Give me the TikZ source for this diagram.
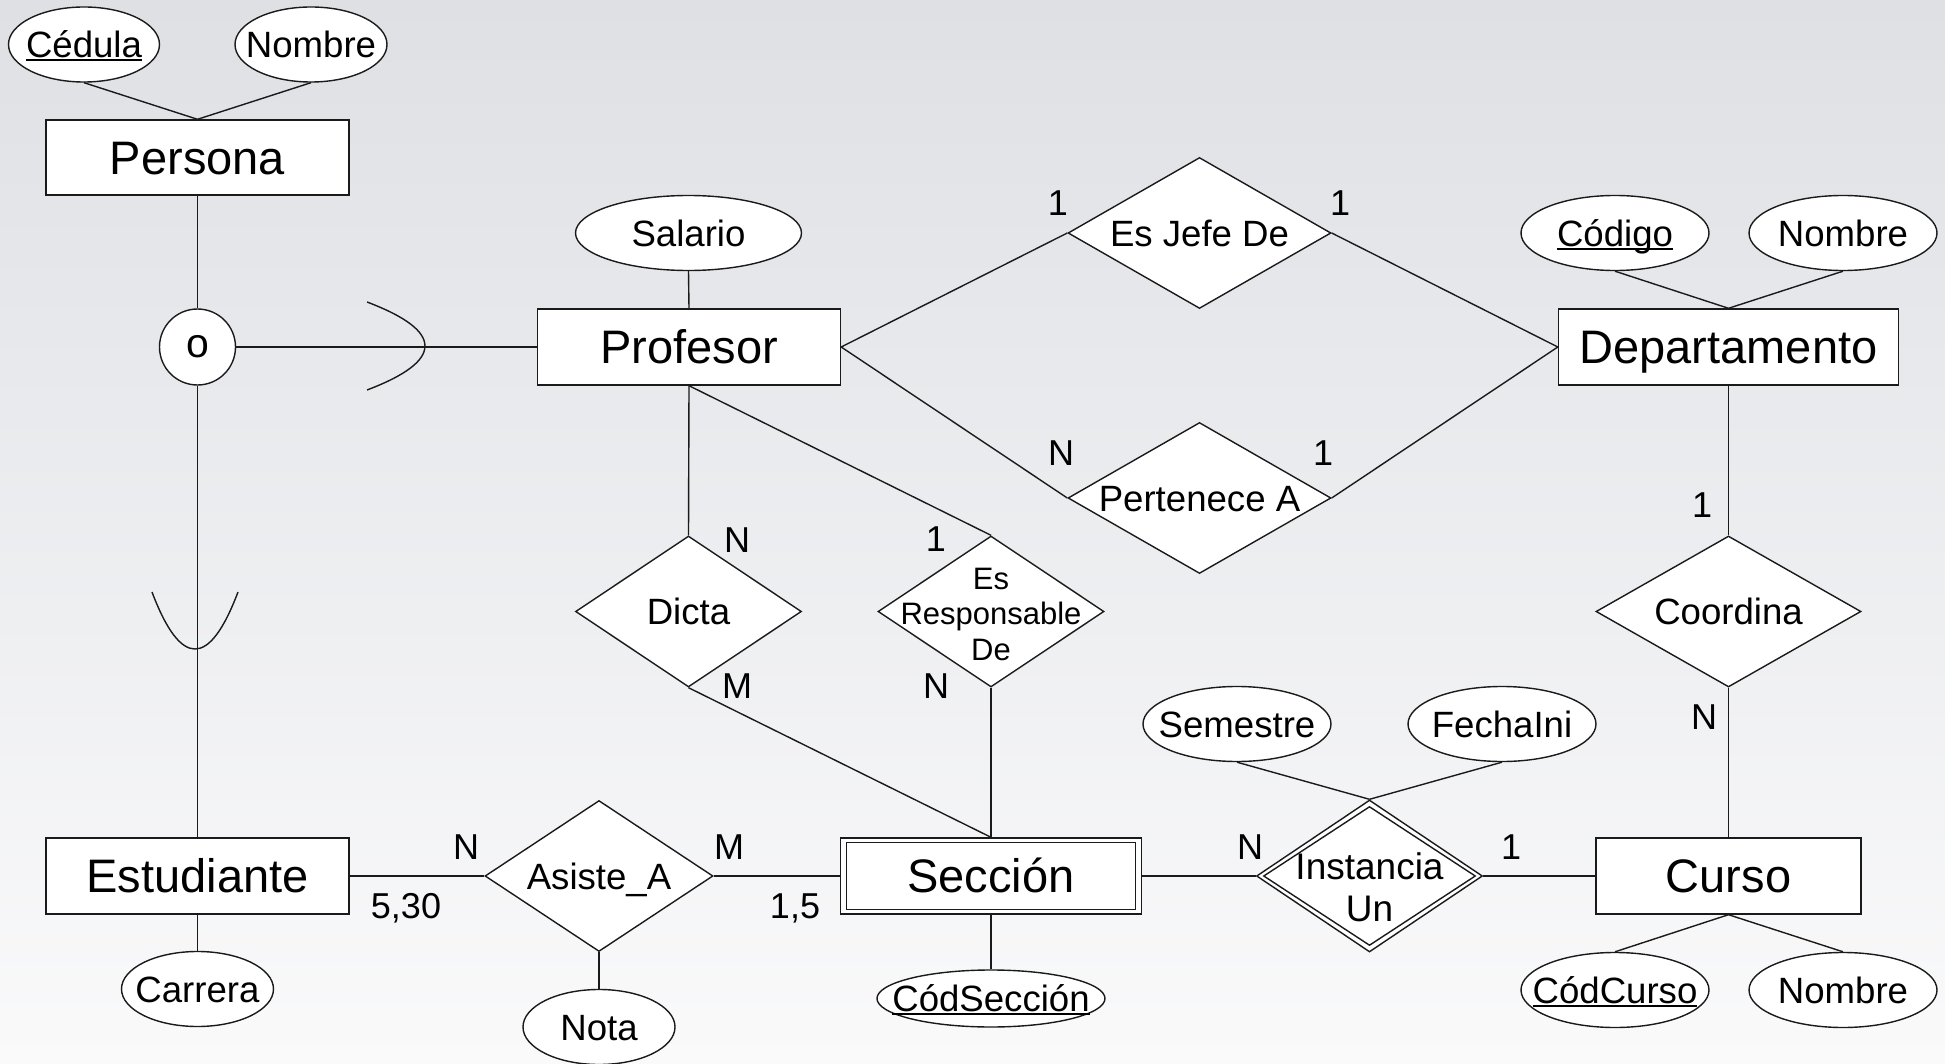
\documentclass[tikz,border=0pt]{standalone}
\usepackage{fontspec}
\setmainfont{Liberation Sans}
\usetikzlibrary{shapes.geometric}
\definecolor{linec}{RGB}{26,26,26}
\definecolor{bgtop}{RGB}{222,224,228}
\definecolor{bgbot}{RGB}{250,250,251}
\newsavebox\ulbox
\newcommand{\ulk}[1]{\sbox\ulbox{#1}\rlap{\rule[-1.75pt]{\wd\ulbox}{1pt}}\usebox\ulbox}
\tikzset{
  ln/.style={draw=linec, line width=0.7pt},
  ent/.style={rectangle, draw=linec, fill=white, line width=0.7pt, inner sep=0pt},
  attr/.style={ellipse, draw=linec, fill=white, line width=0.7pt, inner sep=0pt, minimum width=94pt, minimum height=37.5pt},
  rel/.style={diamond, draw=linec, fill=white, line width=0.7pt, inner sep=0pt, minimum height=75.5pt},
  bigtxt/.style={font=\fontsize{23.5}{28}\selectfont, text height=16.8pt, text depth=0pt, inner sep=0pt},
  midtxt/.style={font=\fontsize{18.3}{22}\selectfont, text height=13.1pt, text depth=0pt, inner sep=0pt},
  card/.style={font=\fontsize{18}{22}\selectfont, text height=12.9pt, text depth=0pt, inner sep=0pt},
}
\begin{document}
\begin{tikzpicture}[x=0.5pt, y=-0.5pt]
\useasboundingbox (0,0) rectangle (1945,1064);
\shade[top color=bgtop, bottom color=bgbot] (0,0) rectangle (1945,1064);

% entities
\node[ent, minimum width=151.5pt, minimum height=37.5pt, label={[bigtxt]center:Persona}] (persona) at (197.5,157.5) {};
\node[ent, minimum width=151.5pt, minimum height=38pt, label={[bigtxt]center:Profesor}] (profesor) at (689,347) {};
\node[ent, minimum width=170pt, minimum height=38pt, label={[bigtxt]center:Departamento}] (depto) at (1728.5,347) {};
\node[ent, minimum width=151.5pt, minimum height=38pt, label={[bigtxt]center:Estudiante}] (estud) at (197.5,876) {};
\node[ent, minimum width=150.5pt, minimum height=38pt] (seccion) at (991,876) {};
\node[ent, minimum width=144.5pt, minimum height=33.5pt, label={[bigtxt]center:Sección}] (secin) at (seccion.center) {};
\node[ent, minimum width=132.5pt, minimum height=38pt, label={[bigtxt]center:Curso}] (curso) at (1728.5,876) {};

% disjoint/overlap circle
\node[circle, draw=linec, fill=white, line width=0.7pt, inner sep=0pt, minimum size=38pt,
      font=\fontsize{20.5}{24}\selectfont, text height=10.6pt, text depth=0pt] (circ) at (197.5,347) {o};

% attributes
\node[attr, minimum width=75.5pt, label={[midtxt]center:{\ulk{Cédula}}}] (ced) at (84,44.5) {};
\node[attr, minimum width=76pt, label={[midtxt]center:Nombre}] (pnom) at (311,44.5) {};
\node[attr, minimum width=113pt, label={[midtxt]center:Salario}] (salario) at (688.5,233) {};
\node[attr, label={[midtxt]center:{\ulk{Código}}}] (codigo) at (1615,233) {};
\node[attr, label={[midtxt]center:Nombre}] (dnom) at (1843,233) {};
\node[attr, minimum width=76pt, label={[midtxt]center:Carrera}] (carrera) at (197.5,989) {};
\node[attr, minimum width=76pt, label={[midtxt]center:Nota}] (nota) at (599,1027) {};
\node[attr, minimum width=114pt, minimum height=28.5pt, label={[midtxt]center:{\ulk{CódSección}}}] (codsec) at (991,998.5) {};
\node[attr, label={[midtxt]center:Semestre}] (semestre) at (1237,724) {};
\node[attr, label={[midtxt]center:FechaIni}] (fecha) at (1502,724) {};
\node[attr, label={[midtxt]center:{\ulk{CódCurso}}}] (codcurso) at (1615,990) {};
\node[attr, label={[midtxt]center:Nombre}] (cnom) at (1843,990) {};

% relationships
\node[rel, minimum width=131.5pt, label={[midtxt]center:Es Jefe De}] (jefe) at (1199.5,233) {};
\node[rel, minimum width=131.5pt, label={[midtxt]center:Pertenece A}] (pert) at (1199.5,498) {};
\node[rel, minimum width=113pt, label={[midtxt]center:Dicta}] (dicta) at (688.5,611.5) {};
\node[rel, minimum width=113pt] (resp) at (991,611.5) {};
\node[font=\fontsize{15.5}{17.75}\selectfont, align=center, inner sep=0pt] (resptxt) at (991,614.4) {Es\\Responsable\\De};
\node[rel, minimum width=132.5pt, label={[midtxt]center:Coordina}] (coord) at (1728.5,611.5) {};
\node[rel, minimum width=114pt, label={[midtxt]center:Asiste\_A}] (asiste) at (599,876) {};
\node[rel, minimum width=113pt, minimum height=76pt] (inst) at (1369.5,876) {};
\node[rel, minimum width=106pt, minimum height=69.5pt] (instin) at (inst.center) {};
\node[font=\fontsize{18.5}{21}\selectfont, align=center, inner sep=0pt] (insttxt) at (1369.5,886.8) {Instancia\\Un};

% connectors
\draw[ln] (ced.south) -- (persona.north);
\draw[ln] (pnom.south) -- (persona.north);
\draw[ln] (persona.south) -- (circ.north);
\draw[ln] (circ.south) -- (estud.north);
\draw[ln] (circ.east) -- (profesor.west);
\draw[ln] (salario.south) -- (profesor.north);
\draw[ln] (profesor.east) -- (jefe.west);
\draw[ln] (jefe.east) -- (depto.west);
\draw[ln] (profesor.east) -- (pert.west);
\draw[ln] (pert.east) -- (depto.west);
\draw[ln] (codigo.south) -- (depto.north);
\draw[ln] (dnom.south) -- (depto.north);
\draw[ln] (depto.south) -- (coord.north);
\draw[ln] (coord.south) -- (curso.north);
\draw[ln] (profesor.south) -- (dicta.north);
\draw[ln] (dicta.south) -- (seccion.north);
\draw[ln] (profesor.south) -- (resp.north);
\draw[ln] (resp.south) -- (seccion.north);
\draw[ln] (estud.east) -- (asiste.west);
\draw[ln] (asiste.east) -- (seccion.west);
\draw[ln] (asiste.south) -- (nota.north);
\draw[ln] (estud.south) -- (carrera.north);
\draw[ln] (seccion.south) -- (codsec.north);
\draw[ln] (seccion.east) -- (inst.west);
\draw[ln] (inst.east) -- (curso.west);
\draw[ln] (semestre.south) -- (inst.north);
\draw[ln] (fecha.south) -- (inst.north);
\draw[ln] (curso.south) -- (codcurso.north);
\draw[ln] (curso.south) -- (cnom.north);

% subset (union) symbols
\draw[ln] (367,302) .. controls (444.3,331.3) and (444.3,360.7) .. (367,390);
\draw[ln] (152,592) .. controls (180.7,668) and (209.3,668) .. (238,592);

% cardinalities
\node[card] (cj1) at (1058,203) {1};
\node[card] (cj2) at (1340,203) {1};
\node[card] (cp1) at (1061,452.5) {N};
\node[card] (cp2) at (1323,452.5) {1};
\node[card] (cd1) at (737,540) {N};
\node[card] (cd2) at (737,686) {M};
\node[card] (cr1) at (936,539) {1};
\node[card] (cr2) at (936,686) {N};
\node[card] (cc1) at (1702,505) {1};
\node[card] (cc2) at (1704,717) {N};
\node[card] (ca1) at (466,847) {N};
\node[card] (ca2) at (406,906) {5,30};
\node[card] (ca3) at (729,847) {M};
\node[card] (ca4) at (795,906) {1,5};
\node[card] (ci1) at (1250,847) {N};
\node[card] (ci2) at (1511,847) {1};
\end{tikzpicture}
\end{document}
